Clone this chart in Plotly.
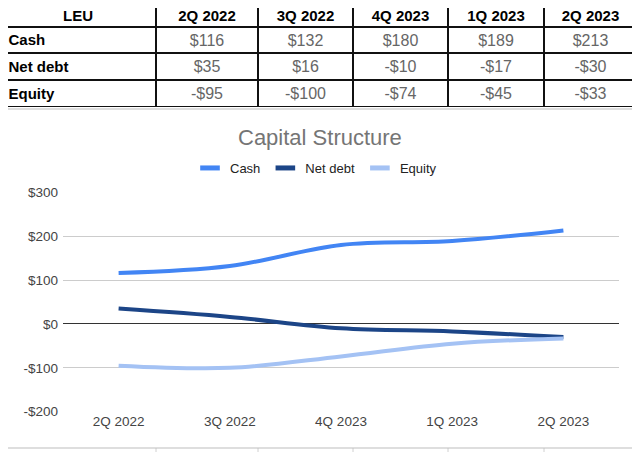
import plotly.graph_objects as go

quarters = ["2Q 2022", "3Q 2022", "4Q 2023", "1Q 2023", "2Q 2023"]
cash = [116, 132, 180, 189, 213]
net_debt = [35, 16, -10, -17, -30]
equity = [-95, -100, -74, -45, -33]
series_names = ["Cash", "Net debt", "Equity"]
series_colors = ["#4285f4", "#1c4587", "#a4c2f4"]
y_ticks = [-200, -100, 0, 100, 200, 300]
table_corner = "LEU"

# page offset: the browser body adds an 8px margin, so lay out in reference pixels
OFF = 8
W, H = 640 - OFF, 452 - OFF
def px(x):
    return (x - OFF) / W
def py(y):
    return 1 - (y - OFF) / H

def money(v):
    return ("-$" if v < 0 else "$") + str(abs(v))

# table geometry (layout only)
col_widths = [156, 102, 95, 95, 96, 93]
row_heights = [23, 26, 27, 27]
tbl_x0, tbl_y0 = 0, 4
text_nudge = 1.5
col_edges = [tbl_x0]
for w in col_widths:
    col_edges.append(col_edges[-1] + w)
row_edges = [tbl_y0]
for h in row_heights:
    row_edges.append(row_edges[-1] + h)
col_centers = [(a + b) / 2 for a, b in zip(col_edges[:-1], col_edges[1:])]
row_centers = [(a + b) / 2 + text_nudge for a, b in zip(row_edges[:-1], row_edges[1:])]

fig = go.Figure()

# ---- spreadsheet table on its own axes ----
fig.add_trace(go.Heatmap(
    x=col_edges, y=row_edges, z=[[0] * len(col_widths) for _ in row_heights],
    colorscale=[[0, "white"], [1, "white"]], showscale=False, xgap=2, ygap=2,
    hoverinfo="skip", xaxis="x2", yaxis="y2",
))
# header
fig.add_trace(go.Scatter(
    x=col_centers, y=[row_centers[0] + 0.5] * len(col_centers), mode="text",
    text=["<b>" + t + "</b>" for t in [table_corner] + quarters], textposition="middle center",
    textfont=dict(family="Liberation Sans, Arial", size=15, color="#000000"),
    xaxis="x2", yaxis="y2", showlegend=False, hoverinfo="skip", cliponaxis=False,
))
# row labels
fig.add_trace(go.Scatter(
    x=[OFF + 0.5] * len(series_names), y=row_centers[1:], mode="text",
    text=["<b>" + n + "</b>" for n in series_names], textposition="middle right",
    textfont=dict(family="Liberation Sans, Arial", size=15, color="#000000"),
    xaxis="x2", yaxis="y2", showlegend=False, hoverinfo="skip", cliponaxis=False,
))
# values
vx, vy, vt = [], [], []
for r, s in enumerate((cash, net_debt, equity)):
    for c, v in enumerate(s):
        vx.append(col_centers[c + 1])
        vy.append(row_centers[r + 1])
        vt.append(money(v))
fig.add_trace(go.Scatter(
    x=vx, y=vy, mode="text", text=vt, textposition="middle center",
    textfont=dict(family="Liberation Sans, Arial", size=16, color="#666666"),
    xaxis="x2", yaxis="y2", showlegend=False, hoverinfo="skip", cliponaxis=False,
))

# ---- chart ----
for name, vals, col in zip(series_names, [cash, net_debt, equity], series_colors):
    fig.add_trace(go.Scatter(
        x=quarters, y=vals, mode="lines", name=name,
        line=dict(color=col, width=4, shape="spline", smoothing=1),
        showlegend=False, hoverinfo="skip",
    ))
    fig.add_trace(go.Scatter(
        x=[None], y=[None], mode="markers", name=name,
        marker=dict(symbol="line-ew", size=14, line=dict(color=col, width=5)),
        showlegend=True,
    ))

shapes = []
# black backing behind table cells (shows through the gaps as borders)
shapes.append(dict(type="rect", xref="x2", yref="y2", x0=col_edges[0], x1=col_edges[-1],
                   y0=row_edges[0], y1=row_edges[-1], fillcolor="#111111", line=dict(width=0),
                   layer="below"))
# background sheet grid stubs
for yy in range(16, 452, 24):
    shapes.append(dict(type="line", xref="paper", yref="paper", x0=px(636), x1=px(640), y0=py(yy), y1=py(yy),
                       line=dict(color="#d0d0d0", width=1), layer="below"))
for xx in col_edges[1:-1]:
    shapes.append(dict(type="line", xref="paper", yref="paper", x0=px(xx), x1=px(xx), y0=py(452), y1=py(448),
                       line=dict(color="#d0d0d0", width=1), layer="below"))
# chart box
shapes.append(dict(type="rect", xref="paper", yref="paper", x0=px(4), x1=px(635), y0=py(448), y1=py(109),
                   fillcolor="white", line=dict(color="#bdbdbd", width=1), layer="below"))

fig.update_layout(
    width=W, height=H,
    margin=dict(l=0, r=0, t=0, b=0, autoexpand=False),
    paper_bgcolor="white", plot_bgcolor="rgba(0,0,0,0)",
    font=dict(family="Liberation Sans, Arial", color="#444444"),
    shapes=shapes,
    annotations=[dict(text="Capital Structure", xref="paper", yref="paper", x=px(320), y=py(137),
                      xanchor="center", yanchor="middle", showarrow=False,
                      font=dict(size=22, color="#757575"))],
    legend=dict(orientation="h", x=px(316), y=py(168), xanchor="center", yanchor="middle",
                font=dict(size=13, color="#222222"), bgcolor="rgba(0,0,0,0)", itemwidth=30),
    xaxis=dict(domain=[px(63), px(619)], type="category", range=[-0.5, len(quarters) - 0.5],
               showgrid=False, zeroline=False, showline=False, ticks="", automargin=False,
               tickfont=dict(size=13.5, color="#444444")),
    yaxis=dict(domain=[py(411.7), py(192.3)], range=[-200, 300], tickvals=y_ticks,
               ticktext=[money(v) for v in y_ticks], showgrid=True, gridcolor="#cccccc", gridwidth=1,
               zeroline=True, zerolinecolor="#333333", zerolinewidth=1, showline=False, ticks="",
               automargin=False, tickfont=dict(size=13.5, color="#444444"), ticklabelstandoff=4),
    xaxis2=dict(domain=[px(OFF), px(col_edges[-1])], range=[OFF, col_edges[-1]], visible=False,
                fixedrange=True, automargin=False),
    yaxis2=dict(domain=[py(row_edges[-1]), py(OFF)], range=[row_edges[-1], OFF], visible=False,
                fixedrange=True, automargin=False),
)

fig.write_html("out.html")
